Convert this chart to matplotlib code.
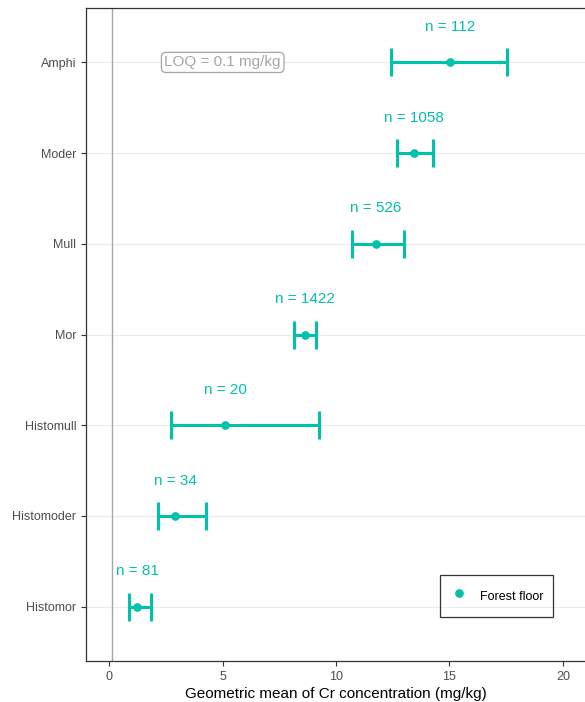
import numpy as np
import matplotlib.pyplot as plt
from matplotlib.lines import Line2D

# Humus forms, bottom to top
humus_forms = ['Histomor', 'Histomoder', 'Histomull', 'Mor', 'Mull', 'Moder', 'Amphi']
geo_mean = [1.23, 2.91, 5.11, 8.63, 11.76, 13.45, 15.02]
ci_low = [0.85, 2.16, 2.70, 8.14, 10.70, 12.67, 12.44]
ci_high = [1.83, 4.26, 9.23, 9.11, 12.99, 14.29, 17.55]
n_samples = [81, 34, 20, 1422, 526, 1058, 112]
loq = 0.1

teal = '#00C1A9'
plt.rcParams['font.family'] = ['Liberation Sans', 'DejaVu Sans']

fig = plt.figure(figsize=(5.85, 7.02), dpi=100)
ax = fig.add_axes([86 / 585, 41 / 702, 500 / 585, 653 / 702])

y = np.arange(1, len(humus_forms) + 1)
mean = np.array(geo_mean)
xerr = [mean - np.array(ci_low), np.array(ci_high) - mean]

for yy in y:
    ax.axhline(yy, color='#EBEBEB', lw=0.8, zorder=0)
ax.axvline(loq, color='#A6A6A6', lw=1.0, zorder=1)

ax.errorbar(mean, y, xerr=xerr, fmt='o', color=teal, ecolor=teal,
            elinewidth=2.2, capsize=10, capthick=2.2, markersize=5.2,
            zorder=3)

for xm, yy, n in zip(mean, y, n_samples):
    ax.text(xm, yy + 0.39, f'n = {n}', color=teal, fontsize=11,
            ha='center', va='center')

ax.text(5, 7, 'LOQ = 0.1 mg/kg', color='#A6A6A6', fontsize=11,
        ha='center', va='center',
        bbox=dict(boxstyle='round,pad=0.2,rounding_size=0.3', fc='white',
                  ec='#A6A6A6', lw=0.9))

ax.set_xlim(-1.03, 21.02)
ax.set_ylim(0.4, 7.6)
ax.set_xticks([0, 5, 10, 15, 20])
ax.set_yticks(y)
ax.set_yticklabels(humus_forms)
ax.tick_params(axis='both', colors='#333333', length=3.5, width=0.8,
               labelsize=9, labelcolor='#4D4D4D')
for side in ax.spines.values():
    side.set_color('#333333')
    side.set_linewidth(0.9)

ax.set_xlabel('Geometric mean of Cr concentration (mg/kg)', fontsize=11,
              color='black', labelpad=3)

point_key = Line2D([], [], linestyle='none', marker='o', color=teal,
                   markersize=5.2)
leg = ax.legend([point_key], ['Forest floor'], loc='center',
                bbox_to_anchor=(0.821, 0.0995), fontsize=9,
                frameon=True, fancybox=False, edgecolor='black',
                borderpad=0.8, handletextpad=0.96, handlelength=1.44,
                handleheight=2.3, borderaxespad=0)
leg.get_frame().set_facecolor('none')
leg.get_frame().set_linewidth(0.9)

fig.savefig('out.png', dpi=100)
